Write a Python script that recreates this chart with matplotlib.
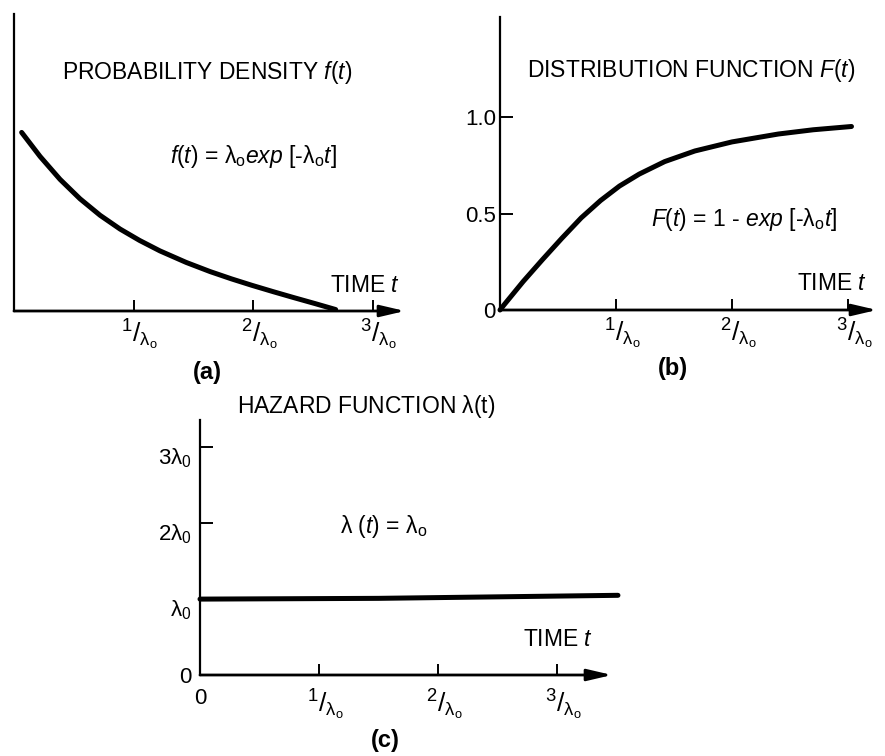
import matplotlib
matplotlib.use("Agg")
import matplotlib.pyplot as plt
from matplotlib.transforms import ScaledTranslation

plt.rcParams['font.family'] = ['Liberation Sans', 'DejaVu Sans']
plt.rcParams['mathtext.fontset'] = 'custom'
plt.rcParams['mathtext.rm'] = 'Liberation Sans'
plt.rcParams['mathtext.it'] = 'Liberation Sans:italic'
plt.rcParams['mathtext.bf'] = 'Liberation Sans:bold'

# values (time in units of 1/lambda_o)
t_pdf = [0.064, 0.218, 0.385, 0.552, 0.72, 0.887, 1.05, 1.22, 1.44, 1.64,
         1.82, 1.99, 2.17, 2.34, 2.52, 2.69]
f_pdf = [0.974, 0.843, 0.718, 0.612, 0.522, 0.447, 0.385, 0.328, 0.265, 0.215,
         0.175, 0.14, 0.105, 0.073, 0.04, 0.008]

t_cdf = [0.0, 0.034, 0.2, 0.367, 0.533, 0.7, 0.867, 1.03, 1.2, 1.42, 1.68,
         2.0, 2.4, 2.7, 3.03]
F_cdf = [0.0, 0.026, 0.148, 0.262, 0.372, 0.478, 0.568, 0.643, 0.705, 0.77, 0.825,
         0.872, 0.913, 0.935, 0.952]

t_haz = [0.0, 1.5, 3.51]
h_haz = [1.0, 1.01, 1.05]

x_ticks = [1, 2, 3]
lam = r'\mathrm{\lambda_o}'
x_ticklabels = [r'$^{%d}$/$_{%s}$' % (k, lam) for k in x_ticks]
cdf_yticks = [0, 0.5, 1.0]
cdf_yticklabels = ['0', '0.5', '1.0']
haz_yticks = [0, 1, 2, 3]
haz_yticklabels = ['0', r'$\mathrm{\lambda_0}$', r'$2\mathrm{\lambda_0}$', r'$3\mathrm{\lambda_0}$']

W, H = 885, 756
fig = plt.figure(figsize=(W / 100, H / 100), dpi=100)


def px_axes(l, t, r, b):
    return fig.add_axes([l / W, 1 - b / H, (r - l) / W, (b - t) / H])


def ftext(x, y, s, **kw):
    kw.setdefault('fontsize', 16.5)
    kw.setdefault('va', 'center')
    fig.text(x / W, 1 - y / H, s, **kw)


def shift(labels, dx, dy):
    for lab in labels:
        lab.set_transform(lab.get_transform() + ScaledTranslation(dx / 100, -dy / 100, fig.dpi_scale_trans))


def style_axes(ax, xmax, ymax, xpad=5):
    ax.set_xlim(0, xmax)
    ax.set_ylim(0, ymax)
    for side in ['top', 'right', 'bottom']:
        ax.spines[side].set_visible(False)
    ax.spines['left'].set_linewidth(1.6)
    ax.patch.set_visible(False)
    ax.annotate('', xy=(xmax, 0), xytext=(0, 0),
                arrowprops=dict(arrowstyle='-|>,head_length=1.5,head_width=0.35',
                                lw=2, color='black', shrinkA=0, shrinkB=0),
                annotation_clip=False)
    ax.set_xticks(x_ticks)
    ax.set_xticklabels(x_ticklabels, fontsize=19)
    ax.tick_params(axis='x', direction='in', length=8, width=1.4, pad=xpad)
    ax.tick_params(axis='y', direction='in', length=9, width=1.4, pad=3, labelsize=16)


# (a) probability density
ax1 = px_axes(14, 14, 405, 311)
style_axes(ax1, 3.27, 1.62)
ax1.set_yticks([])
shift(ax1.get_xticklabels(), 6, 0)
ax1.plot(t_pdf, f_pdf, color='black', lw=3.6, solid_capstyle='round',
         solid_joinstyle='round', clip_on=False)
ftext(62, 72, r'PROBABILITY DENSITY $f(t)$')
ftext(170, 157, r'$f(t)$ = $%sexp$ [-$%s t$]' % (lam, lam))
ftext(330, 285, r'TIME $t$')
ftext(207, 372, '(a)', ha='center', fontsize=17, fontweight='bold')

# (b) distribution function
ax2 = px_axes(500, 17, 877, 310)
style_axes(ax2, 3.25, 1.52)
ax2.set_yticks(cdf_yticks)
ax2.set_yticklabels(cdf_yticklabels)
ax2.yaxis.get_major_ticks()[0].tick1line.set_visible(False)
shift(ax2.get_xticklabels(), 6, 0)
ax2.plot(t_cdf, F_cdf, color='black', lw=3.6, solid_capstyle='round',
         solid_joinstyle='round', clip_on=False)
ftext(527, 70, r'DISTRIBUTION FUNCTION $F(t)$')
ftext(651, 219, r'$F(t)$ = 1 - $exp$ [-$%s t$]' % lam)
ftext(797, 283, r'TIME $t$')
ftext(673, 368, '(b)', ha='center', fontsize=17, fontweight='bold')

# (c) hazard function
ax3 = px_axes(200, 420, 612, 675)
style_axes(ax3, 3.46, 3.36, xpad=9)
ax3.set_xticks([0] + x_ticks)
ax3.set_xticklabels(['0'] + x_ticklabels, fontsize=19)
ax3.xaxis.get_major_ticks()[0].tick1line.set_visible(False)
ax3.get_xticklabels()[0].set_fontsize(16)
ax3.set_yticks(haz_yticks)
ax3.set_yticklabels(haz_yticklabels)
ax3.tick_params(axis='y', pad=6)
for i in [0, 1]:
    ax3.yaxis.get_major_ticks()[i].tick1line.set_visible(False)
shift(ax3.get_xticklabels()[1:], 6, 0)
shift(ax3.get_yticklabels()[1:], 0, 8)
ax3.plot(t_haz, h_haz, color='black', lw=3.6, solid_capstyle='round', clip_on=False)
ftext(237, 406, r'HAZARD FUNCTION $\mathrm{\lambda(t)}$')
ftext(340, 527, r'$\mathrm{\lambda}$ ($t$) = $%s$' % lam)
ftext(523, 640, r'TIME $t$')
ftext(385, 740, '(c)', ha='center', fontsize=17, fontweight='bold')

fig.savefig('out.png', dpi=100, facecolor='white')
